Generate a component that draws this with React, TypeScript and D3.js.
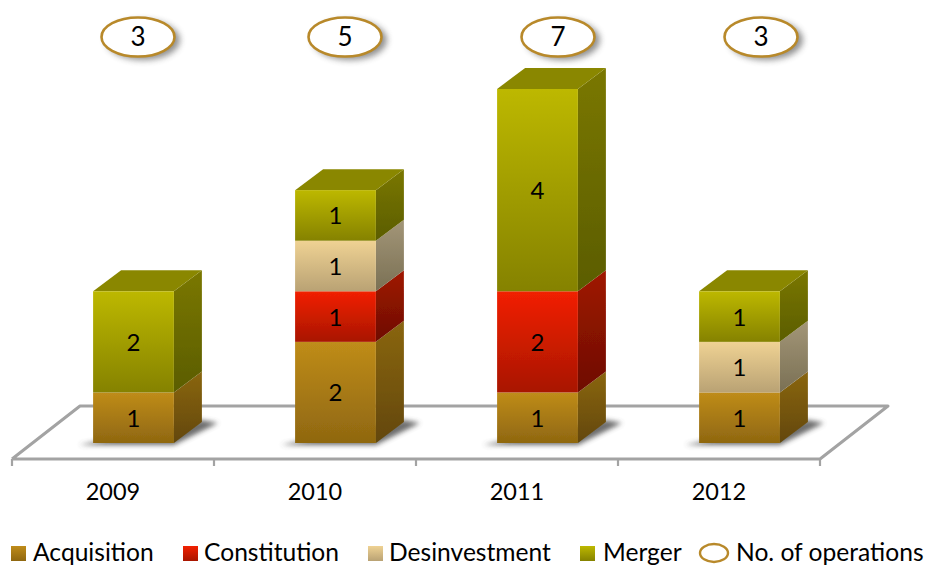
import React from "react";
import * as d3 from "d3";

const years = ["2009", "2010", "2011", "2012"];
const seriesNames = ["Acquisition", "Constitution", "Desinvestment", "Merger"];
const acquisition = [1, 2, 1, 1];
const constitution = [0, 1, 2, 0];
const desinvestment = [0, 1, 0, 1];
const merger = [2, 1, 4, 1];
const operations = [3, 5, 7, 3];
const operationsLabel = "No. of operations";

const FONT = "Lato, 'Open Sans', sans-serif";
const W = 926, H = 566;
const depthX = 28, depthY = -21;
const barShift = 20.5;
const floorFront = 459, floorBack = 406;

const front: Record<string, [string, string]> = {
  Acquisition: ["#bf8c1a", "#8f6710"],
  Constitution: ["#f22000", "#a81600"],
  Desinvestment: ["#efd293", "#b9a274"],
  Merger: ["#bdb800", "#858200"],
};
const side: Record<string, [string, string]> = {
  Acquisition: ["#8a6612", "#634708"],
  Constitution: ["#a01600", "#6e0e00"],
  Desinvestment: ["#a39678", "#7a7054"],
  Merger: ["#7a7700", "#5b5d00"],
};
const top: Record<string, string> = { Merger: "#8a8700" };

const rows = years.map((y, i) => ({
  year: y,
  Acquisition: acquisition[i],
  Constitution: constitution[i],
  Desinvestment: desinvestment[i],
  Merger: merger[i],
}));

export default function App() {
  const x = d3.scaleBand<string>().domain(years).range([12, 820]).paddingInner(0.6).paddingOuter(0.3);
  const y = d3.scaleLinear().domain([0, 7]).range([443, 89]);
  const stacked = d3.stack<any>().keys(seriesNames)(rows);
  const bubbleX = d3.scaleOrdinal<string, number>().domain(years).range([138, 345, 558, 761]);
  const line = d3.line();
  const bw = x.bandwidth();
  const step = x.step();
  const ticks = d3.range(years.length + 1).map((i) => 12 + i * step);

  const legendItems = [
    { name: "Acquisition", sw: 11, tx: 33 },
    { name: "Constitution", sw: 183, tx: 204 },
    { name: "Desinvestment", sw: 368, tx: 389 },
    { name: "Merger", sw: 580, tx: 603 },
  ];

  return (
    <svg width={W} height={H} style={{ position: "absolute", left: 0, top: 0, background: "#fff" }}>
      <defs>
        {seriesNames.map((n) => (
          <React.Fragment key={n}>
            <linearGradient id={`f-${n}`} x1="0" y1="0" x2="0" y2="1">
              <stop offset="0" stopColor={front[n][0]} />
              <stop offset="1" stopColor={front[n][1]} />
            </linearGradient>
            <linearGradient id={`s-${n}`} x1="0" y1="0" x2="0" y2="1">
              <stop offset="0" stopColor={side[n][0]} />
              <stop offset="1" stopColor={side[n][1]} />
            </linearGradient>
          </React.Fragment>
        ))}
        <filter id="blur2" x="-30%" y="-60%" width="160%" height="220%">
          <feGaussianBlur stdDeviation="2.8" />
        </filter>
        <filter id="blur4" x="-30%" y="-50%" width="160%" height="200%">
          <feGaussianBlur stdDeviation="3" />
        </filter>
        <filter id="soft" x="-5%" y="-5%" width="110%" height="110%">
          <feGaussianBlur stdDeviation="0.45" />
        </filter>
      </defs>

      {/* floor */}
      <g filter="url(#soft)" fill="none" stroke="#a3a3a3" strokeWidth={3}>
        <path
          d={line([
            [12, floorFront],
            [80, floorBack],
            [888, floorBack],
            [820, floorFront],
            [12, floorFront],
          ]) as string}
          strokeLinejoin="round"
        />
        {ticks.map((t) => (
          <line key={t} x1={t} x2={t} y1={floorFront} y2={floorFront + 7} strokeWidth={2.2} />
        ))}
      </g>

      {/* bar shadows */}
      {years.map((yr) => {
        const x0 = (x(yr) as number) + barShift;
        const b = y(0);
        return (
          <path
            key={yr}
            filter="url(#blur2)"
            fill="#4a4a4a"
            opacity={0.8}
            d={line([
              [x0 - 14, b + 2],
              [x0 + bw, b + 2],
              [x0 + bw + depthX + 16, b + depthY + 1],
              [x0 + bw + depthX, b + depthY - 2],
            ]) as string}
          />
        );
      })}

      {/* bars */}
      <g filter="url(#soft)">
        {stacked.map((s) =>
          s.map((d, i) => {
            if (d[1] === d[0]) return null;
            const yr = years[i];
            const x0 = (x(yr) as number) + barShift;
            const yT = y(d[1]);
            const yB = y(d[0]);
            const isTop = d[1] === operations[i];
            return (
              <g key={`${s.key}-${yr}`}>
                <path
                  fill={`url(#s-${s.key})`}
                  d={line([
                    [x0 + bw, yT],
                    [x0 + bw + depthX, yT + depthY],
                    [x0 + bw + depthX, yB + depthY],
                    [x0 + bw, yB],
                  ]) as string}
                />
                {isTop && (
                  <path
                    fill={top[s.key]}
                    d={line([
                      [x0, yT],
                      [x0 + depthX, yT + depthY],
                      [x0 + bw + depthX, yT + depthY],
                      [x0 + bw, yT],
                    ]) as string}
                  />
                )}
                <rect x={x0} y={yT} width={bw} height={yB - yT} fill={`url(#f-${s.key})`} />
              </g>
            );
          })
        )}
      </g>

      {/* data labels */}
      {stacked.map((s) =>
        s.map((d, i) => {
          if (d[1] === d[0]) return null;
          const yr = years[i];
          return (
            <text
              key={`${s.key}-${yr}-l`}
              x={(x(yr) as number) + barShift + bw / 2}
              y={y((d[0] + d[1]) / 2) + 9}
              textAnchor="middle"
              fontFamily={FONT}
              fontSize={24}
              fill="#000"
            >
              {d[1] - d[0]}
            </text>
          );
        })
      )}

      {/* category labels */}
      {years.map((yr) => (
        <text
          key={yr}
          x={(x(yr) as number) + bw / 2}
          y={500}
          textAnchor="middle"
          fontFamily={FONT}
          fontSize={23.5}
          fill="#000"
        >
          {yr}
        </text>
      ))}

      {/* operations bubbles */}
      {years.map((yr, i) => (
        <g key={yr}>
          <ellipse cx={bubbleX(yr) + 5} cy={40} rx={37} ry={20} fill="#555" opacity={0.65} filter="url(#blur4)" />
          <ellipse cx={bubbleX(yr)} cy={37} rx={36.5} ry={19.5} fill="#fff" stroke="#b8892a" strokeWidth={2.6} />
          <text
            x={bubbleX(yr)}
            y={46}
            textAnchor="middle"
            fontFamily={FONT}
            fontSize={26}
            fill="#000"
          >
            {operations[i]}
          </text>
        </g>
      ))}

      {/* legend */}
      {legendItems.map((l) => (
        <g key={l.name}>
          <rect x={l.sw} y={546} width={15} height={15} fill={`url(#f-${l.name})`} />
          <text x={l.tx} y={561} fontFamily={FONT} fontSize={24.6} fill="#000">
            {l.name}
          </text>
        </g>
      ))}
      <ellipse cx={714} cy={553} rx={14} ry={9} fill="#fff" stroke="#b8892a" strokeWidth={2.4} />
      <text x={736} y={561} fontFamily={FONT} fontSize={24.6} fill="#000">
        {operationsLabel}
      </text>
    </svg>
  );
}
